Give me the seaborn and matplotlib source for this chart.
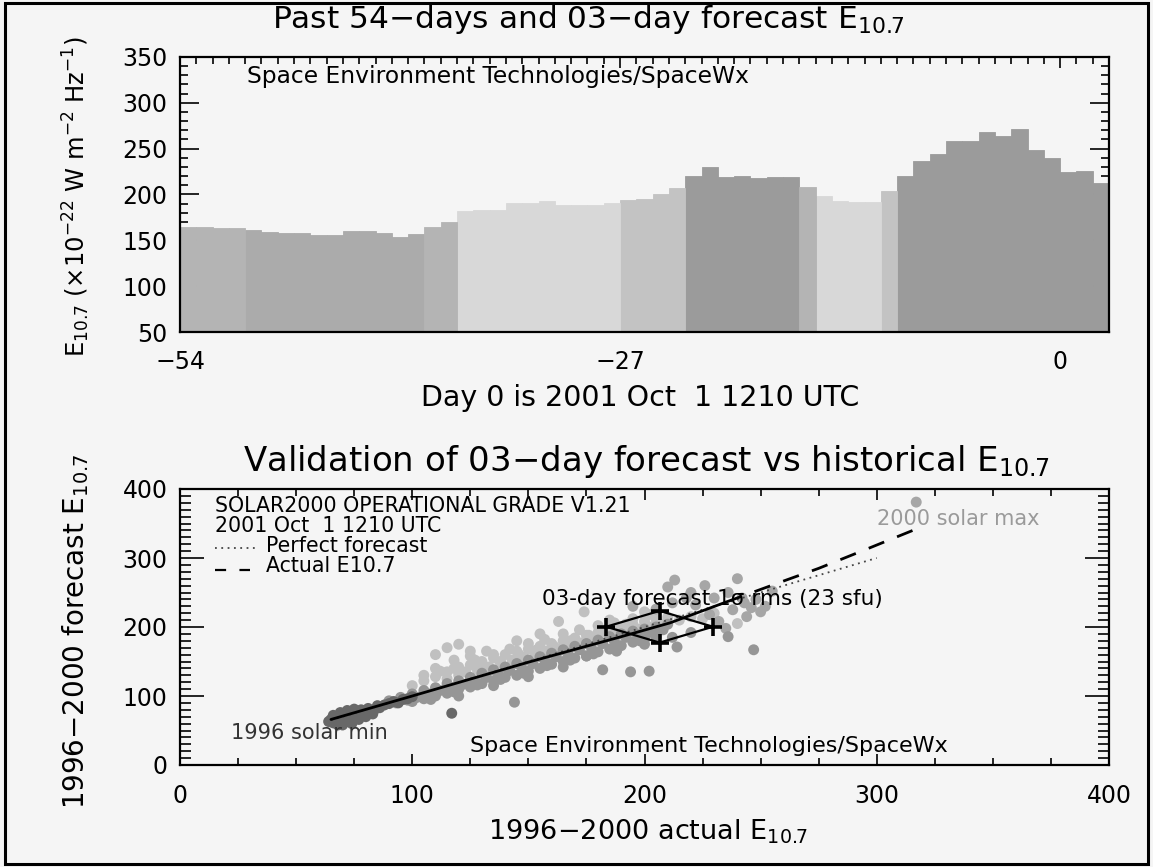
import numpy as np
import pandas as pd
import matplotlib
matplotlib.use("Agg")
import matplotlib.pyplot as plt
from matplotlib.patches import Rectangle
from matplotlib.ticker import MultipleLocator
import seaborn as sns

# ---------------- data: top panel (daily E10.7) ----------------
days = list(range(-54, 3))
flux = [164, 164, 163, 163, 161, 159, 158, 158, 156, 156,
        160, 160, 158, 154, 157, 164, 170, 182, 183, 183,
        191, 191, 193, 188, 188, 189, 191, 194, 195, 201,
        207, 220, 230, 219, 220, 218, 219, 219, 208, 198,
        193, 192, 192, 204, 220, 236, 244, 258, 258, 268,
        264, 271, 248, 240, 224, 226, 212]
bar_class = (["M"] * 4 + ["MD"] * 11 + ["M"] * 2 + ["L"] * 10 + ["ML"] * 4 +
             ["D"] * 7 + ["M"] + ["L"] * 4 + ["ML"] + ["D"] * 13)

# ---------------- data: bottom panel (validation scatter) ----------------
act_dark = [64, 65, 66, 67, 67, 68, 69, 70, 70, 71, 72, 72, 73, 74, 75, 76, 77, 78,
            79, 80, 81, 82, 84, 85, 86, 88, 90, 92, 94, 96, 70, 74, 78, 117, 98, 100,
            66, 69, 72, 75, 68, 71, 74, 77, 80, 83]
fc_dark = [63, 66, 61, 68, 64, 70, 66, 72, 62, 67, 74, 69, 65, 71, 76, 70, 74, 78,
           73, 76, 82, 79, 81, 86, 83, 87, 89, 92, 90, 95, 58, 60, 80, 75, 96, 99,
           72, 76, 79, 81, 58, 62, 64, 66, 70, 74]

act_mid = [90, 93, 95, 98, 100, 102, 105, 107, 110, 112, 115, 117, 120, 122, 125, 127,
           130, 132, 135, 137, 140, 142, 145, 147, 150, 152, 155, 157, 160, 162, 165,
           167, 170, 172, 175, 177, 180, 182, 185, 187, 190, 192, 195, 197, 200, 202,
           205, 208, 210, 144, 182, 194, 202, 214, 247, 236, 120, 135, 150, 165, 175,
           188, 200, 212, 220,
           100, 105, 110, 115, 120, 125, 130, 135, 140, 145, 150, 155, 160, 165, 170,
           175, 180, 185, 190, 195, 200, 205, 108, 118, 128, 138, 148, 158, 168, 178,
           188, 198]
fc_mid = [93, 90, 98, 94, 103, 98, 108, 103, 112, 108, 118, 112, 122, 117, 127, 122,
          133, 127, 138, 132, 142, 137, 147, 142, 152, 147, 157, 152, 162, 157, 167,
          162, 172, 167, 176, 171, 181, 176, 186, 180, 190, 185, 194, 189, 197, 192,
          200, 196, 204, 91, 138, 135, 136, 171, 167, 186, 100, 115, 128, 142, 158,
          165, 175, 185, 192,
          92, 96, 100, 104, 110, 113, 118, 122, 127, 130, 136, 140, 146, 150, 155,
          158, 164, 168, 173, 178, 182, 186, 95, 106, 116, 124, 133, 144, 152, 161,
          170, 180]

act_light = [100, 105, 110, 115, 118, 120, 125, 128, 130, 133, 135, 138, 140, 143, 145,
             148, 150, 153, 155, 158, 160, 163, 165, 168, 170, 173, 175, 178, 180, 183,
             185, 188, 190, 193, 195, 198, 200, 203, 205, 208, 210, 215, 220, 225, 110,
             118, 125, 132, 163, 174, 155, 145, 200, 185, 230, 240,
             105, 112, 120, 127, 135, 142, 150, 157, 165, 172, 180, 187, 195, 202, 115,
             123, 130, 138, 146, 153, 161, 168, 176, 184, 192, 115, 120, 110, 125]
fc_light = [115, 122, 128, 135, 140, 130, 145, 138, 150, 142, 155, 148, 160, 152, 165,
            156, 168, 160, 172, 165, 176, 168, 180, 172, 184, 177, 188, 181, 192, 185,
            196, 189, 200, 193, 204, 197, 208, 200, 211, 204, 214, 210, 215, 212, 140,
            152, 158, 165, 208, 222, 190, 180, 222, 210, 220, 205,
            130, 136, 142, 152, 160, 168, 176, 182, 190, 196, 202, 206, 212, 218, 125,
            135, 142, 150, 160, 166, 172, 180, 188, 196, 204, 170, 175, 160, 165]

act_high = [210, 213, 240, 317, 243, 244, 238, 242, 246, 250, 232, 228, 222, 218, 205,
            235, 230, 255, 226, 212, 195, 248, 252, 236, 220]
fc_high = [258, 268, 270, 381, 235, 215, 225, 242, 228, 222, 208, 218, 232, 242, 226,
           198, 242, 252, 260, 235, 230, 240, 230, 250, 250]

# fitted "Actual E10.7" relation and perfect-forecast line
fit_x = [65, 100, 150, 190, 211, 235, 261, 275, 295, 317]
fit_y = [66, 100, 149, 186, 206, 236, 268, 285, 312, 342]
perfect = [65, 300]

# current 3-day forecast point and its 1-sigma rms
fc_center_x = 206.5
fc_center_y = 200.4
rms_sfu = 23

# ---------------- styling ----------------
W, H = 1153, 867
BG = "#f5f5f5"
sns.set_theme(style="white")
plt.rcParams["font.family"] = ["DejaVu Sans"]
plt.rcParams["mathtext.fontset"] = "dejavusans"
for k in ("text.color", "axes.labelcolor", "xtick.color", "ytick.color"):
    plt.rcParams[k] = "black"

fig = plt.figure(figsize=(W / 100, H / 100), dpi=100, facecolor=BG)

def fx(x):
    return x / W

def fy(y):
    return 1 - y / H

ax1 = fig.add_axes([fx(180), fy(332), (1109 - 180) / W, (332 - 57) / H])
ax2 = fig.add_axes([fx(180), fy(765), (1109 - 180) / W, (765 - 489) / H])
for ax in (ax1, ax2):
    ax.set_facecolor(BG)
    for s in ax.spines.values():
        s.set_linewidth(1.6)
        s.set_color("black")
        s.set_visible(True)

# ---------------- top panel ----------------
bar_pal = {"M": "#b4b4b4", "MD": "#ababab", "L": "#d8d8d8", "ML": "#c3c3c3", "D": "#9b9b9b"}
df_bars = pd.DataFrame({"day": days, "flux": flux, "src": bar_class})
sns.histplot(data=df_bars, x="day", weights="flux", hue="src", bins=57,
             binrange=(-54, 3), palette=bar_pal, multiple="layer", alpha=1,
             linewidth=0.6, legend=False, ax=ax1)
for p in ax1.patches:
    p.set_edgecolor(p.get_facecolor())
ax1.set_xlim(-54, 3)
ax1.set_ylim(50, 350)
ax1.set_xticks([-54, -27, 0])
ax1.set_xticklabels(["\u221254", "\u221227", "0"])
ax1.xaxis.set_minor_locator(MultipleLocator(1))
ax1.yaxis.set_major_locator(MultipleLocator(50))
ax1.yaxis.set_minor_locator(MultipleLocator(10))
ax1.tick_params(axis="x", which="both", direction="in", top=True, bottom=False,
                labelsize=17, pad=13, width=1.2)
ax1.tick_params(axis="x", which="major", length=8)
ax1.tick_params(axis="x", which="minor", length=5)
ax1.tick_params(axis="y", which="both", direction="in", left=True, right=True,
                labelsize=17, pad=9, width=1.2)
ax1.tick_params(axis="y", which="major", length=14)
ax1.tick_params(axis="y", which="minor", length=6)
ax1.set_xlabel("")
ax1.set_ylabel("")
yl = ax1.get_yticklabels()
yl[0].set_va("bottom")
yl[-1].set_va("top")
ax1.text(0.072, 0.93, "Space Environment Technologies/SpaceWx", transform=ax1.transAxes,
         fontsize=16.8, va="center", ha="left")

# ---------------- bottom panel ----------------
df_sc = pd.DataFrame({
    "actual": act_light + act_high + act_mid + act_dark,
    "forecast": fc_light + fc_high + fc_mid + fc_dark,
    "period": (["light"] * len(act_light) + ["high"] * len(act_high) +
               ["mid"] * len(act_mid) + ["dark"] * len(act_dark)),
})
sc_pal = {"light": "#c0c0c0", "high": "#a6a6a6", "mid": "#969696", "dark": "#686868"}
sns.scatterplot(data=df_sc, x="actual", y="forecast", hue="period", palette=sc_pal,
                s=62, linewidth=0, legend=False, ax=ax2, zorder=2)

sns.lineplot(x=perfect, y=perfect, color="#444444", linestyle=(0, (1, 2.5)), lw=1.3,
             ax=ax2, zorder=3)
split = 6
sns.lineplot(x=fit_x[:split], y=fit_y[:split], color="black", lw=2.0, sort=False,
             estimator=None, ax=ax2, zorder=4)
sns.lineplot(x=fit_x[split - 1:], y=fit_y[split - 1:], color="black", lw=2.0,
             linestyle=(0, (6, 5)), sort=False, estimator=None, ax=ax2, zorder=4)

dia_x = [fc_center_x - rms_sfu, fc_center_x, fc_center_x + rms_sfu, fc_center_x,
         fc_center_x - rms_sfu]
dia_y = [fc_center_y, fc_center_y + rms_sfu, fc_center_y, fc_center_y - rms_sfu,
         fc_center_y]
sns.lineplot(x=dia_x, y=dia_y, color="black", lw=1.6, sort=False, estimator=None,
             ax=ax2, zorder=5)
sns.scatterplot(x=dia_x[:4], y=dia_y[:4], marker="+", s=160, color="black",
                linewidth=2.6, ax=ax2, zorder=6)

ax2.set_xlim(0, 400)
ax2.set_ylim(0, 400)
ax2.xaxis.set_major_locator(MultipleLocator(100))
ax2.xaxis.set_minor_locator(MultipleLocator(25))
ax2.yaxis.set_major_locator(MultipleLocator(100))
ax2.yaxis.set_minor_locator(MultipleLocator(10))
ax2.tick_params(axis="x", which="both", direction="in", top=True, bottom=True,
                labelsize=17, pad=14, width=1.2)
ax2.tick_params(axis="x", which="major", length=8)
ax2.tick_params(axis="x", which="minor", length=5)
ax2.tick_params(axis="y", which="both", direction="in", left=True, right=True,
                labelsize=17, pad=9, width=1.2)
ax2.tick_params(axis="y", which="major", length=17)
ax2.tick_params(axis="y", which="minor", length=8)
ax2.set_xlabel("")
ax2.set_ylabel("")
yl2 = ax2.get_yticklabels()
yl2[0].set_va("bottom")
yl2[-1].set_va("top")

# legend-like block (text + sample lines)
ax2.text(15, 375, "SOLAR2000 OPERATIONAL GRADE V1.21", fontsize=14.8, va="center", ha="left")
ax2.text(15, 346, "2001 Oct  1 1210 UTC", fontsize=14.8, va="center", ha="left")
ax2.text(37, 317, "Perfect forecast", fontsize=14.8, va="center", ha="left")
ax2.text(37, 288, "Actual E10.7", fontsize=14.8, va="center", ha="left")
ax2.plot([15, 33], [314, 314], color="#444444", linestyle=(0, (1, 2.5)), lw=1.3)
ax2.plot([15, 30], [283, 283], color="black", linestyle=(0, (5, 6)), lw=1.6)

ax2.text(156, 240, "03-day forecast 1\u03c3 rms (%d sfu)" % rms_sfu,
         fontsize=15.5, va="center", ha="left", zorder=7)
ax2.text(300, 356, "2000 solar max", fontsize=15, color="#9a9a9a", va="center", ha="left")
ax2.text(22, 47, "1996 solar min", fontsize=15, color="#333333", va="center", ha="left")
ax2.text(125, 28, "Space Environment Technologies/SpaceWx", fontsize=16,
         va="center", ha="left")

# ---------------- titles and axis labels ----------------
fig.text(fx(272), fy(20), "Past 54\u2212days and 03\u2212day forecast E$_{10.7}$",
         fontsize=22.5, ha="left", va="center")
fig.text(fx(640), fy(398), "Day 0 is 2001 Oct  1 1210 UTC", fontsize=20.5,
         ha="center", va="center")
fig.text(fx(646), fy(462), "Validation of 03\u2212day forecast vs historical E$_{10.7}$",
         fontsize=24.5, ha="center", va="center")
fig.text(fx(648), fy(832), "1996\u22122000 actual E$_{10.7}$", fontsize=19.5,
         ha="center", va="center")
fig.text(fx(76), fy(197),
         "E$_{10.7}$ (\u00d710$^{-22}$ W m$^{-2}$ Hz$^{-1}$)",
         fontsize=17.5, rotation=90, ha="center", va="center")
fig.text(fx(76), fy(632), "1996\u22122000 forecast E$_{10.7}$", fontsize=20,
         rotation=90, ha="center", va="center")

# frame around the image
fig.patches.append(Rectangle((fx(5), fy(864)), (1148 - 5) / W, (864 - 3) / H,
                             transform=fig.transFigure, fill=False, lw=2.2,
                             edgecolor="black"))

fig.savefig("out.png", dpi=100, facecolor=BG)
